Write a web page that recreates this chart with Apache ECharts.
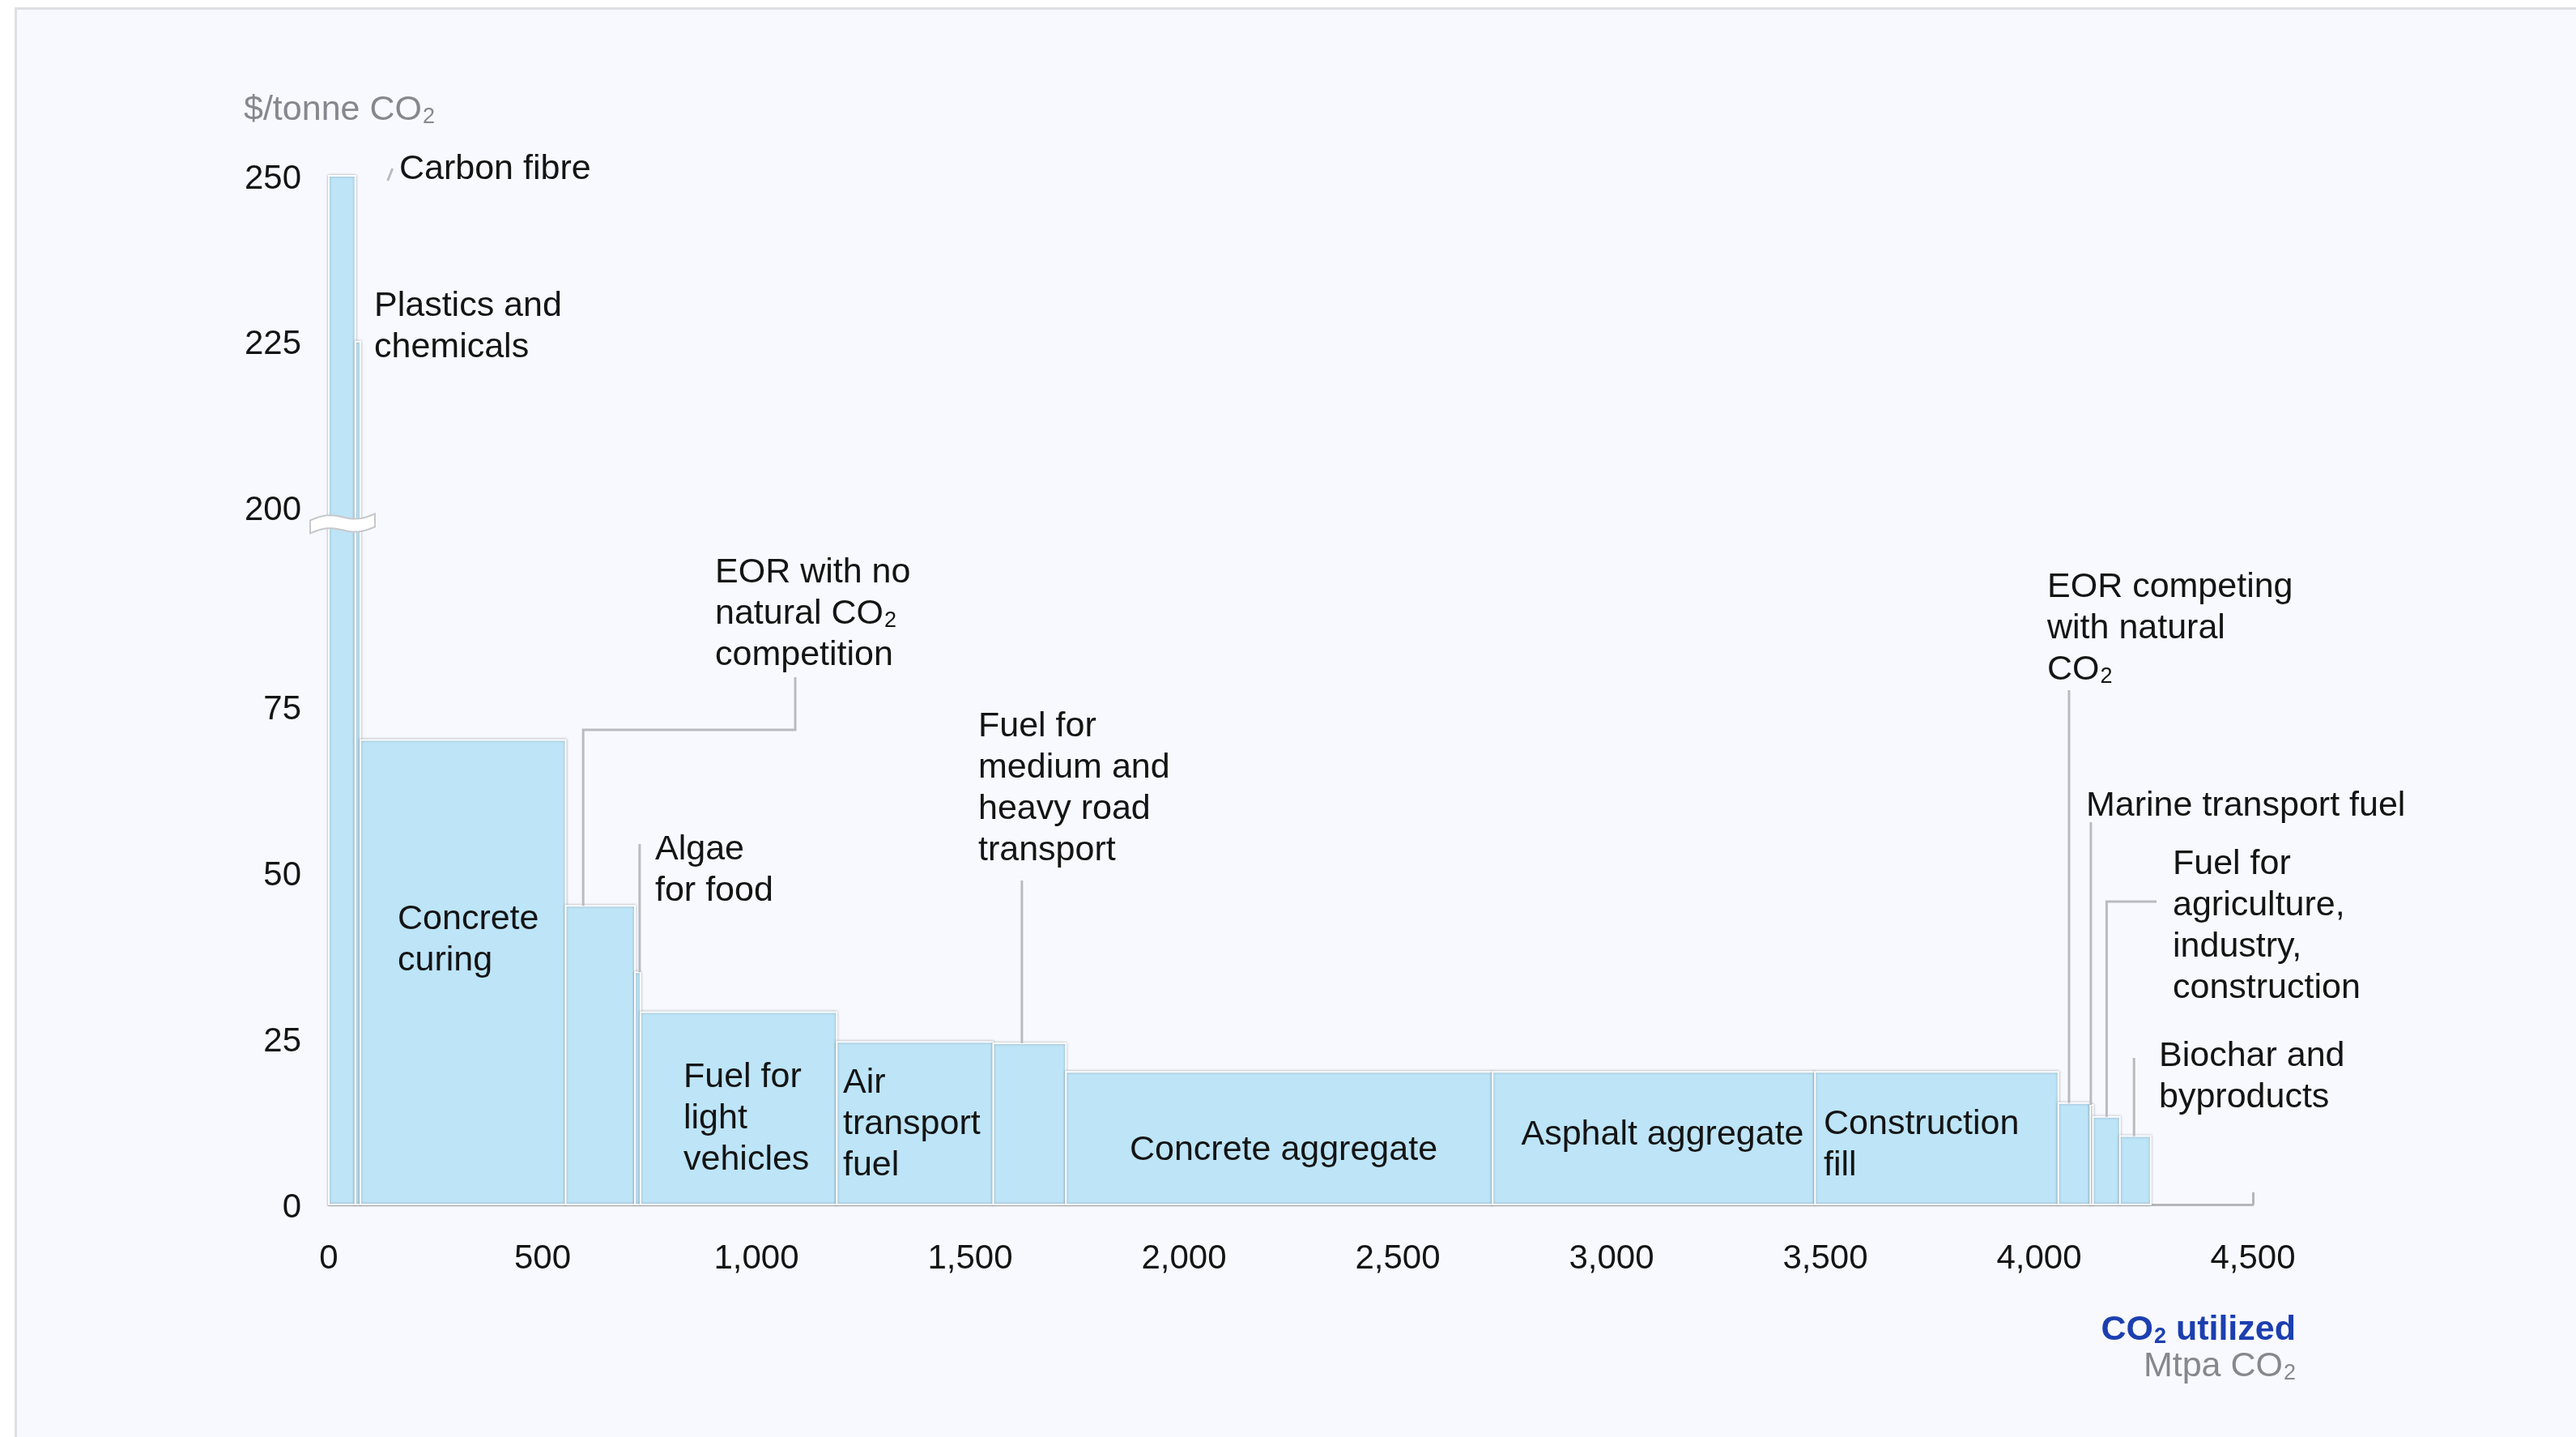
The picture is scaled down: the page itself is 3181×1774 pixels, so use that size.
<!DOCTYPE html>
<html>
<head>
<meta charset="utf-8">
<script src="https://cdn.jsdelivr.net/npm/echarts@6/dist/echarts.min.js"></script>
<style>
  html, body { margin: 0; padding: 0; background: #ffffff; width: 3181px; height: 1774px; overflow: hidden; }
  #panel { position: absolute; left: 18px; top: 9px; right: 0; bottom: 0; background: #f8f9fe;
           border-left: 3px solid #dedfe3; border-top: 3px solid #dedfe3; }
  #chart { position: absolute; left: 0; top: 0; width: 3181px; height: 1774px; }
</style>
</head>
<body>
<div id="panel"></div>
<div id="chart"></div>
<script>
// CO2 utilization cost curve: bar width = volume (Mtpa CO2), bar height = cost ($/tonne CO2)
const uses = [
  'Carbon fibre', 'Plastics and chemicals', 'Concrete curing',
  'EOR with no natural CO2 competition', 'Algae for food', 'Fuel for light vehicles',
  'Air transport fuel', 'Fuel for medium and heavy road transport', 'Concrete aggregate',
  'Asphalt aggregate', 'Construction fill', 'EOR competing with natural CO2',
  'Marine transport fuel', 'Fuel for agriculture, industry, construction', 'Biochar and byproducts'
];
const volumes = [62, 12, 480, 162, 13, 459, 366, 170, 998, 754, 569, 75, 6, 63, 72];
const costs   = [250, 225, 70, 45, 35, 29, 24.5, 24.3, 20, 20, 20, 15.3, 15, 13.2, 10.3];

const xTicks = [0, 500, 1000, 1500, 2000, 2500, 3000, 3500, 4000, 4500];
const yTicks = [0, 25, 50, 75, 200, 225, 250];

// Broken value axis: the span 75..200 is squeezed into a short gap
const BREAK_LO = 75, BREAK_HI = 200, BREAK_GAP = 30;
function toAxis(v) { return v >= BREAK_HI ? v - (BREAK_HI - BREAK_LO) + BREAK_GAP : v; }
function fromAxis(a) { return a > BREAK_LO ? a + (BREAK_HI - BREAK_LO) - BREAK_GAP : a; }

// variable-width bars: [start, end, axis value, cost]
const barData = [];
let cursor = 0;
volumes.forEach((w, i) => {
  barData.push([cursor, cursor + w, toAxis(costs[i]), costs[i], i]);
  cursor += w;
});

const FONT = '"Liberation Sans", Arial, Helvetica, sans-serif';
const INK = '#141414';
const LEADER = '#b9bbbf';
const RICH_SUB = { sub: { fontSize: 27, fontFamily: FONT, padding: [18, 0, 0, 1] } };
const TEXT_NUDGE = 4;

// annotation text blocks: left edge / first-line centre, plus leader routing (data x of the drop)
const callouts = [
  { i: 0, text: 'Carbon fibre', x: 493, y: 205 },
  { i: 1, text: 'Plastics and\nchemicals', x: 462, y: 374 },
  { i: 2, text: 'Concrete\ncuring', x: 491, y: 1131 },
  { i: 3, text: 'EOR with no\nnatural CO{sub|2}\ncompetition', x: 883, y: 703,
    leader: { from: [982, 836], elbowY: 901, at: 595 } },
  { i: 4, text: 'Algae\nfor food', x: 809, y: 1045, leader: { from: [null, 1042], at: 727 } },
  { i: 5, text: 'Fuel for\nlight\nvehicles', x: 844, y: 1326 },
  { i: 6, text: 'Air\ntransport\nfuel', x: 1041, y: 1333 },
  { i: 7, text: 'Fuel for\nmedium and\nheavy road\ntransport', x: 1208, y: 893,
    leader: { from: [null, 1087], at: 1621 } },
  { i: 8, text: 'Concrete aggregate', x: 1585, y: 1416, align: 'center' },
  { i: 9, text: 'Asphalt aggregate', x: 2053, y: 1397, align: 'center' },
  { i: 10, text: 'Construction\nfill', x: 2252, y: 1384 },
  { i: 11, text: 'EOR competing\nwith natural\nCO{sub|2}', x: 2528, y: 721,
    leader: { from: [null, 852], at: 4070 } },
  { i: 12, text: 'Marine transport fuel', x: 2576, y: 991, leader: { from: [null, 1015], at: 4121 } },
  { i: 13, text: 'Fuel for\nagriculture,\nindustry,\nconstruction', x: 2683, y: 1063,
    leader: { from: [2663, 1113], elbowY: 1113, at: 4158 } },
  { i: 14, text: 'Biochar and\nbyproducts', x: 2666, y: 1300, leader: { from: [null, 1306], at: 4222 } }
];

const chart = echarts.init(document.getElementById('chart'), null, { renderer: 'canvas' });

chart.setOption({
  animation: false,
  backgroundColor: 'transparent',
  grid: { left: 406, right: 399, top: 217, bottom: 287 },
  xAxis: {
    type: 'value', min: 0, max: 4500, interval: 500,
    axisLine: { show: true, lineStyle: { color: '#b4b6b9', width: 3 } },
    axisTick: { show: true, inside: true, length: 15, customValues: [4500],
                lineStyle: { color: '#b4b6b9', width: 3 } },
    splitLine: { show: false },
    axisLabel: {
      fontSize: 42, fontFamily: FONT, color: INK, margin: 46,
      customValues: xTicks,
      formatter: v => String(v).replace(/\B(?=(\d{3})+(?!\d))/g, ',')
    }
  },
  yAxis: {
    type: 'value', min: 0, max: toAxis(250),
    axisLine: { show: false },
    axisTick: { show: false },
    splitLine: { show: false },
    axisLabel: {
      fontSize: 42, fontFamily: FONT, color: INK, margin: 34,
      verticalAlign: 'top', lineHeight: 8,
      customValues: yTicks.map(toAxis),
      formatter: v => String(Math.round(fromAxis(v)))
    }
  },
  series: [{
    type: 'custom',
    name: 'CO2 utilization',
    data: barData,
    encode: { x: [0, 1], y: 2 },
    renderItem(params, api) {
      const p0 = api.coord([api.value(0), api.value(2)]);
      const p1 = api.coord([api.value(1), 0]);
      return {
        type: 'rect',
        shape: { x: p0[0], y: p0[1], width: p1[0] - p0[0], height: p1[1] - p0[1] },
        style: {
          fill: '#bde4f7', stroke: '#ffffff', lineWidth: 2,
          shadowBlur: 3, shadowColor: 'rgba(95,105,115,0.5)'
        }
      };
    }
  }]
});

// annotations, leaders and the axis break, placed through the chart's scales
function px(x, cost) { return chart.convertToPixel({ gridIndex: 0 }, [x, toAxis(cost)]); }

const graphics = [];

function addText(x, y, text, extra) {
  graphics.push({
    type: 'text', x: x, y: y - 25.5 + TEXT_NUDGE, z: 20,
    style: Object.assign({
      text: text, fontSize: 43, fontFamily: FONT, fill: INK, lineHeight: 51,
      align: 'left', verticalAlign: 'top', rich: RICH_SUB
    }, extra || {})
  });
}
function addLine(points) {
  graphics.push({
    type: 'polyline', z: 15, shape: { points: points },
    style: { stroke: LEADER, lineWidth: 3, fill: null }
  });
}

callouts.forEach(c => {
  addText(c.x, c.y, c.text, c.align ? { align: c.align } : null);
  if (c.leader) {
    const top = px(c.leader.at, costs[c.i]);
    const lx = top[0];
    const f = c.leader.from;
    if (c.leader.elbowY != null) {
      addLine([[f[0], f[1]], [f[0], c.leader.elbowY], [lx, c.leader.elbowY], [lx, top[1]]]);
    } else {
      addLine([[lx, f[1]], [lx, top[1]]]);
    }
  }
});

// small tick mark beside the tallest bar's label
const cf = px(volumes[0], costs[0]);
addLine([[cf[0] + 40, cf[1] + 6], [cf[0] + 46, cf[1] - 9]]);

// axis titles
addText(301, 132, '$/tonne CO{sub|2}', { fill: '#85888c' });
addText(2835, 1638, 'CO{sub|2} utilized', {
  align: 'right', fill: '#1c3fb0', fontWeight: 'bold',
  rich: { sub: { fontSize: 27, fontWeight: 'bold', fill: '#1c3fb0', fontFamily: FONT, padding: [18, 0, 0, 1] } }
});
addText(2835, 1683, 'Mtpa CO{sub|2}', {
  align: 'right', fill: '#85888c',
  rich: { sub: { fontSize: 27, fill: '#85888c', fontFamily: FONT, padding: [18, 0, 0, 1] } }
});

// break marker across the tall bars
const bk = chart.convertToPixel({ gridIndex: 0 }, [0, BREAK_LO + BREAK_GAP * 0.92]);
const bx0 = bk[0] - 23, bw = 80, half = 8;
const topPts = [], botPts = [];
for (let k = 0; k <= 20; k++) {
  const t = k / 20;
  const yc = bk[1] + 4 - 8 * t - 4 * Math.sin(2 * Math.PI * t);
  topPts.push([bx0 + bw * t, yc - half]);
  botPts.unshift([bx0 + bw * t, yc + half]);
}
graphics.push({
  type: 'polygon', z: 18, shape: { points: topPts.concat(botPts) },
  style: { fill: '#ffffff', stroke: '#c6c8cb', lineWidth: 2 }
});

chart.setOption({ graphic: graphics });
</script>
</body>
</html>
